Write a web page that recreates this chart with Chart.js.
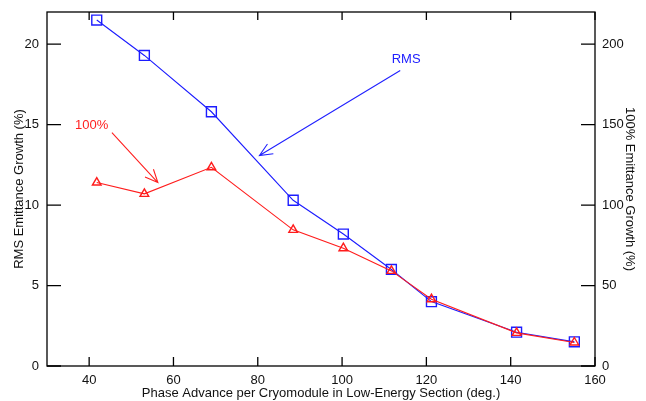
<!DOCTYPE html>
<html>
<head>
<meta charset="utf-8">
<title>Emittance Growth vs Phase Advance</title>
<script src="https://cdn.jsdelivr.net/npm/chart.js@4.4.1/dist/chart.umd.min.js"></script>
<style>
  html, body { margin: 0; padding: 0; background: #fff; }
  #emittanceChart { display: block; }
</style>
</head>
<body>
<canvas id="emittanceChart" width="646" height="401"></canvas>
<script>
// Phase advance per cryomodule (deg.) and the two emittance growth series
const phaseAdvance = [41.8, 53.1, 69.0, 88.4, 100.3, 111.7, 121.2, 141.4, 155.1];
const rmsGrowth = [21.5, 19.3, 15.8, 10.3, 8.2, 6.0, 4.0, 2.1, 1.5];
const fullGrowth = [114, 107, 123.5, 84.6, 73.2, 59.1, 41.5, 20.6, 14.6];

// tick labels
const xTickValues = [40, 60, 80, 100, 120, 140, 160];
const rmsTickValues = [0, 5, 10, 15, 20];
const fullTickValues = [0, 50, 100, 150, 200];

// arrow annotations, given in data units (x axis / left y axis)
const rmsNote = { text: 'RMS', color: '#2020ff', at: [115.2, 19.07], from: [113.8, 18.36], to: [80.4, 13.08] };
const fullNote = { text: '100%', color: '#ff2020', at: [40.6, 14.94], from: [45.4, 14.51], to: [56.3, 11.4] };

Chart.defaults.font.family = '"Liberation Sans", Arial, sans-serif';
Chart.defaults.font.size = 13;
Chart.defaults.color = '#111';

/**
 * Replaces the generated ticks of a scale with a fixed list of values.
 * @param {number[]} values - Tick values to keep.
 */
function fixedTicks(values) {
    return scale => { scale.ticks = values.map(v => ({ value: v })); };
}

/**
 * Fixes the thickness of an axis and drops the label overhang padding,
 * so the plot area lands where the original figure has it.
 * @param {number} size - Width (vertical axis) or height (horizontal axis) in px.
 */
function fixedSize(size) {
    return scale => {
        if (scale.isHorizontal()) {
            scale.height = size;
        } else {
            scale.width = size;
        }
        scale.paddingTop = 0;
        scale.paddingBottom = 0;
        scale.paddingLeft = 0;
        scale.paddingRight = 0;
    };
}

/**
 * Draws the plot frame and the inward-pointing tick marks on all four sides.
 */
const frameAndTicks = {
    id: 'frameAndTicks',
    afterDraw(chart) {
        const { ctx, chartArea: a, scales } = chart;
        ctx.save();
        ctx.strokeStyle = '#000';
        ctx.lineWidth = 1.3;
        ctx.strokeRect(a.left, a.top, a.right - a.left, a.bottom - a.top);
        ctx.beginPath();
        xTickValues.forEach(v => {
            const px = scales.x.getPixelForValue(v);
            ctx.moveTo(px, a.bottom);
            ctx.lineTo(px, a.bottom - 9);
            ctx.moveTo(px, a.top);
            ctx.lineTo(px, a.top + 8);
        });
        rmsTickValues.forEach(v => {
            const py = scales.y.getPixelForValue(v);
            ctx.moveTo(a.left, py);
            ctx.lineTo(a.left + 14, py);
        });
        fullTickValues.forEach(v => {
            const py = scales.y2.getPixelForValue(v);
            ctx.moveTo(a.right, py);
            ctx.lineTo(a.right - 14, py);
        });
        ctx.stroke();
        ctx.restore();
    }
};

/**
 * Draws a labelled arrow annotation, converting data units through the chart scales.
 * @param {Chart} chart - The chart instance.
 * @param {Object} note - Annotation with text, color and data positions.
 */
function drawNote(chart, note) {
    const { ctx, scales } = chart;
    const px = v => scales.x.getPixelForValue(v);
    const py = v => scales.y.getPixelForValue(v);
    const x0 = px(note.from[0]), y0 = py(note.from[1]);
    const x1 = px(note.to[0]), y1 = py(note.to[1]);
    const angle = Math.atan2(y1 - y0, x1 - x0);
    const head = 14, spread = 0.42;

    ctx.save();
    ctx.strokeStyle = note.color;
    ctx.lineWidth = 1.1;
    ctx.beginPath();
    ctx.moveTo(x0, y0);
    ctx.lineTo(x1, y1);
    ctx.moveTo(x1 - head * Math.cos(angle - spread), y1 - head * Math.sin(angle - spread));
    ctx.lineTo(x1, y1);
    ctx.lineTo(x1 - head * Math.cos(angle + spread), y1 - head * Math.sin(angle + spread));
    ctx.stroke();

    ctx.fillStyle = note.color;
    ctx.font = '13px "Liberation Sans", Arial, sans-serif';
    ctx.textAlign = 'center';
    ctx.textBaseline = 'middle';
    ctx.fillText(note.text, px(note.at[0]), py(note.at[1]));
    ctx.restore();
}

const notes = {
    id: 'notes',
    afterDatasetsDraw(chart) {
        drawNote(chart, rmsNote);
        drawNote(chart, fullNote);
    }
};

/**
 * Creates the dual-axis line chart.
 * @returns {Chart} A Chart.js line chart instance.
 */
function createEmittanceChart() {
    const ctx = document.getElementById('emittanceChart').getContext('2d');
    return new Chart(ctx, {
        type: 'line',
        data: {
            datasets: [{
                label: 'RMS',
                data: phaseAdvance.map((x, i) => ({ x: x, y: rmsGrowth[i] })),
                yAxisID: 'y',
                borderColor: '#1c1cff',
                borderWidth: 1.1,
                pointStyle: 'rect',
                pointRadius: 7,
                pointBorderWidth: 1.4,
                pointBackgroundColor: 'rgba(0,0,0,0)',
                pointBorderColor: '#1c1cff',
                tension: 0,
                order: 1
            }, {
                label: '100%',
                data: phaseAdvance.map((x, i) => ({ x: x, y: fullGrowth[i] })),
                yAxisID: 'y2',
                borderColor: '#ff1c1c',
                borderWidth: 1.1,
                pointStyle: 'triangle',
                pointRadius: 5,
                pointBorderWidth: 1.4,
                pointBackgroundColor: 'rgba(0,0,0,0)',
                pointBorderColor: '#ff1c1c',
                tension: 0,
                order: 0
            }]
        },
        options: {
            responsive: false,
            animation: false,
            devicePixelRatio: 1,
            layout: { padding: { top: 12, left: 0, right: 0, bottom: 0 } },
            plugins: { legend: { display: false }, tooltip: { enabled: false } },
            scales: {
                x: {
                    type: 'linear',
                    position: 'bottom',
                    min: 30,
                    max: 160,
                    afterBuildTicks: fixedTicks(xTickValues),
                    afterFit: fixedSize(35),
                    grid: { display: false, drawTicks: false },
                    border: { display: false },
                    ticks: { padding: 7, maxRotation: 0, autoSkip: false },
                    title: {
                        display: true,
                        text: 'Phase Advance per Cryomodule in Low-Energy Section (deg.)',
                        padding: { top: 0, bottom: 0 }
                    }
                },
                y: {
                    type: 'linear',
                    position: 'left',
                    min: 0,
                    max: 22,
                    afterBuildTicks: fixedTicks(rmsTickValues),
                    afterFit: fixedSize(47),
                    grid: { display: false, drawTicks: false },
                    border: { display: false },
                    ticks: { padding: 8 },
                    title: { display: true, text: 'RMS Emittance Growth (%)', padding: { top: 12, bottom: 0 } }
                },
                y2: {
                    type: 'linear',
                    position: 'right',
                    min: 0,
                    max: 220,
                    afterBuildTicks: fixedTicks(fullTickValues),
                    afterFit: fixedSize(51),
                    grid: { display: false, drawTicks: false },
                    border: { display: false },
                    ticks: { padding: 7 },
                    title: { display: true, text: '100% Emittance Growth (%)', padding: { top: 9, bottom: 0 } }
                }
            }
        },
        plugins: [frameAndTicks, notes]
    });
}

window.onload = function() {
    window.emittanceChart = createEmittanceChart();
};
</script>
</body>
</html>
